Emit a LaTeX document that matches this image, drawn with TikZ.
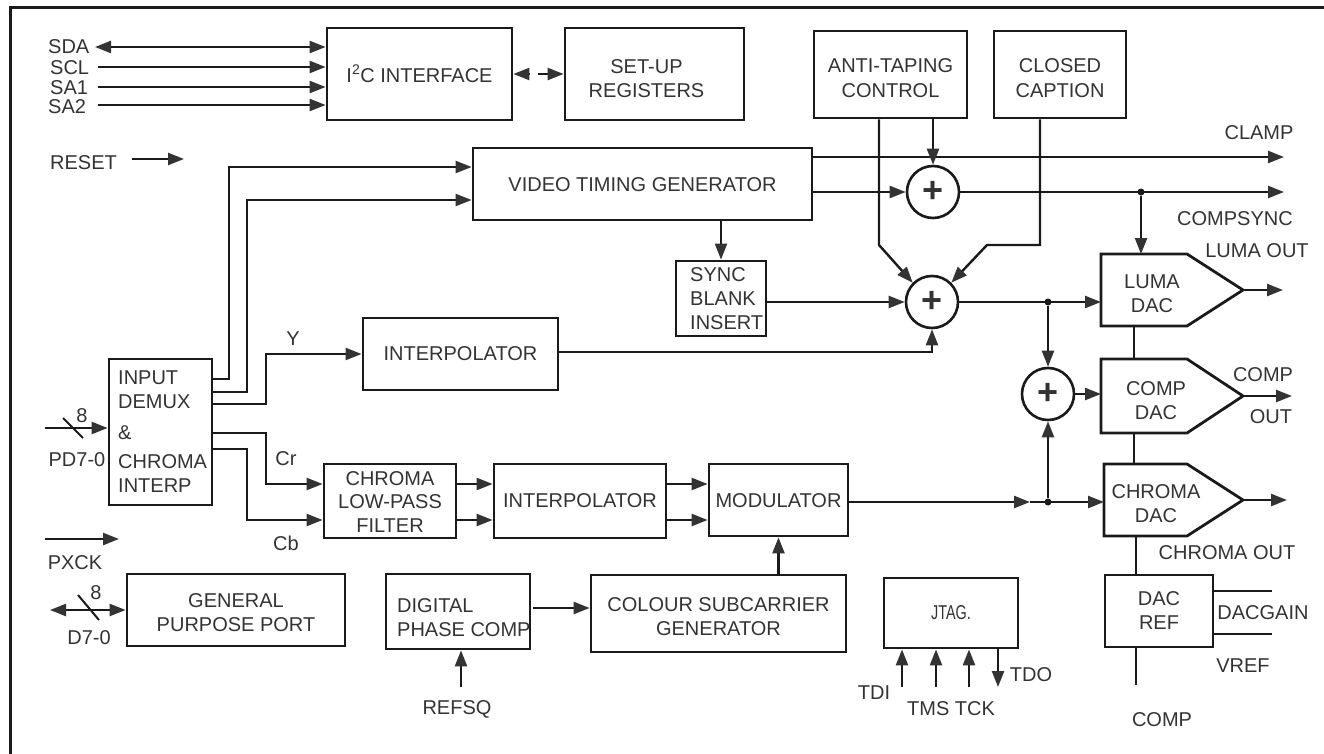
\documentclass[tikz,border=0pt]{standalone}
\usepackage{fontspec}
\setmainfont{Liberation Sans}
\usetikzlibrary{arrows.meta,calc}
\definecolor{linec}{HTML}{1A1A1A}
\definecolor{txt}{HTML}{333333}
\definecolor{tipc}{HTML}{333333}
\newcommand\lbf{\fontsize{20}{24}\selectfont}
% shift box text: #1 = horizontal shift, #2 = downward shift, #3 = lines
\newcommand\tsh[3]{\raisebox{-#2}[\height][\depth]{\hspace*{#1}\begin{tabular}{@{}c@{}}#3\end{tabular}\hspace*{-#1}}}
\begin{document}
\begin{tikzpicture}[x=1pt,y=-1pt,
 blk/.style={draw=linec,line width=2.8pt,inner sep=0,text=txt,font=\lbf,align=center},
 outl/.style={draw=linec,line width=2.8pt,line join=miter},
 wire/.style={draw=linec,line width=2.4pt},
 arr/.style={wire,-{Triangle[length=16pt,width=12pt,fill=tipc,color=tipc]}},
 darr/.style={wire,{Triangle[length=16pt,width=12pt,fill=tipc,color=tipc]}-{Triangle[length=16pt,width=12pt,fill=tipc,color=tipc]}},
 lbl/.style={inner sep=0,text=txt,font=\lbf,align=center},
 sum/.style={circle,draw=linec,line width=2.6pt,minimum size=52pt,inner sep=0,text=txt,font=\fontsize{36}{36}\selectfont\bfseries},
 dot/.style={circle,fill=linec,minimum size=7pt,inner sep=0},
 ghost/.style={inner sep=0,outer sep=0},
]
\useasboundingbox (0,0) rectangle (1324,754);
% frame
\draw[linec,line width=3pt] (10,760) -- (10,8) -- (1330,8);

% ---- blocks ----
\node[blk,minimum width=185pt,minimum height=92pt] (i2c) at (419.5,74) {\tsh{0pt}{3pt}{I\textsuperscript{2}C INTERFACE}};
\node[blk,minimum width=179pt,minimum height=92pt] (setup) at (654.5,74) {\tsh{-8pt}{7pt}{SET-UP\\REGISTERS}};
\node[blk,minimum width=153pt,minimum height=87pt] (antitap) at (890.5,74.5) {\tsh{0pt}{6pt}{ANTI-TAPING\\[1pt]CONTROL}};
\node[blk,minimum width=132pt,minimum height=87pt] (cc) at (1060,74.5) {\tsh{0pt}{6pt}{CLOSED\\[1pt]CAPTION}};
\node[blk,minimum width=339pt,minimum height=72pt] (vtg) at (642.5,184) {\tsh{0pt}{3pt}{VIDEO TIMING GENERATOR}};
\node[blk,minimum width=90pt,minimum height=75pt] (sync) at (721,298.5) {};
\node[lbl,anchor=west,align=left] (synct) at (690,299) {SYNC\\BLANK\\INSERT};
\node[blk,minimum width=195pt,minimum height=72pt] (interpY) at (460.5,354) {INTERPOLATOR};
\node[blk,minimum width=103pt,minimum height=146pt] (demux) at (160.5,432) {};
\node[lbl,anchor=west,align=left] (demuxt) at (118,432) {INPUT\\DEMUX\\[7pt]\&\\[5pt]CHROMA\\INTERP};
\node[blk,minimum width=132pt,minimum height=74pt,font=\fontsize{20}{23.5}\selectfont] (lpf) at (390,501) {\tsh{0pt}{3pt}{CHROMA\\LOW-PASS\\FILTER}};
\node[blk,minimum width=172pt,minimum height=74pt] (interpC) at (580,501) {\tsh{0pt}{2pt}{INTERPOLATOR}};
\node[blk,minimum width=139pt,minimum height=72pt] (mod) at (778.5,500) {\tsh{0pt}{3pt}{MODULATOR}};
\node[blk,minimum width=218pt,minimum height=72pt] (gpp) at (236,610) {\tsh{0pt}{5pt}{GENERAL\\PURPOSE PORT}};
\node[blk,minimum width=144pt,minimum height=75pt] (dpc) at (458,611.5) {};
\node[lbl,anchor=west,align=left] (dpct) at (397,618) {DIGITAL\\PHASE COMP};
\node[blk,minimum width=255pt,minimum height=77pt] (csg) at (718.5,613.5) {\tsh{0pt}{5pt}{COLOUR SUBCARRIER\\GENERATOR}};
\node[blk,minimum width=134pt,minimum height=70pt] (jtag) at (951,613) {\tsh{0pt}{2pt}{\scalebox{0.72}[1]{JTAG.}}};
\node[blk,minimum width=108pt,minimum height=72pt] (dacref) at (1159,611) {\tsh{0pt}{2pt}{DAC\\REF}};

% ---- DACs ----
\node[ghost,minimum width=142pt,minimum height=72pt] (lumadac) at (1172,290) {};
\draw[outl] (lumadac.north west) -- ++(86,0) -- (lumadac.east) -- ($(lumadac.south west)+(86,0)$) -- (lumadac.south west) -- cycle;
\node[lbl] (lumat) at (1152,294) {LUMA\\DAC};
\node[ghost,minimum width=142pt,minimum height=74pt] (compdac) at (1172,396) {};
\draw[outl] (compdac.north west) -- ++(86,0) -- (compdac.east) -- ($(compdac.south west)+(86,0)$) -- (compdac.south west) -- cycle;
\node[lbl] (compt) at (1156,401) {COMP\\DAC};
\node[ghost,minimum width=139pt,minimum height=72pt] (chromadac) at (1173.5,500) {};
\draw[outl] (chromadac.north west) -- ++(83,0) -- (chromadac.east) -- ($(chromadac.south west)+(83,0)$) -- (chromadac.south west) -- cycle;
\node[lbl] (chromat) at (1156,504) {CHROMA\\DAC};

% ---- summers ----
\node[sum] (s1) at (933,192) {+};
\node[sum] (s2) at (932,302) {+};
\node[sum] (s3) at (1048,394) {+};

% ---- left inputs ----
\node[lbl,anchor=west] (sda) at (48,47) {SDA};
\node[lbl,anchor=west] (scl) at (50,68) {SCL};
\node[lbl,anchor=west] (sa1) at (50,88) {SA1};
\node[lbl,anchor=west] (sa2) at (48,107) {SA2};
\coordinate (sdae) at (95,47);
\coordinate (scle) at (98,67);
\coordinate (sa1e) at (98,87);
\coordinate (sa2e) at (98,105);
\draw[darr] (sdae) -- (i2c.west |- sdae);
\draw[arr] (scle) -- (i2c.west |- scle);
\draw[arr] (sa1e) -- (i2c.west |- sa1e);
\draw[arr] (sa2e) -- (i2c.west |- sa2e);

\coordinate (ia) at (529,74);
\coordinate (ib) at (538,74);
\draw[arr] (ia) -- (i2c.east |- ia);
\draw[arr] (ib) -- (setup.west |- ib);

\node[lbl,anchor=west] (reset) at (50,163) {RESET};
\coordinate (rs1) at (132,159);
\coordinate (rs2) at (184,159);
\draw[arr] (rs1) -- (rs2);

% PD7-0
\coordinate (pd1) at (45,428);
\draw[arr] (pd1) -- (demux.west |- pd1);
\coordinate (pdsa) at (63,418);
\coordinate (pdsb) at (83,438);
\draw[wire,line width=2pt] (pdsa) -- (pdsb);
\node[lbl] (pd8) at (82,416) {8};
\node[lbl] (pdl) at (77,460) {PD7-0};

% PXCK
\coordinate (px1) at (45,539);
\coordinate (px2) at (119,539);
\draw[arr] (px1) -- (px2);
\node[lbl] (pxl) at (75,563) {PXCK};

% D7-0
\coordinate (d71) at (50,610);
\draw[darr] (d71) -- (gpp.west |- d71);
\coordinate (d7sa) at (78,595);
\coordinate (d7sb) at (99,620);
\draw[wire,line width=2pt] (d7sa) -- (d7sb);
\node[lbl] (d78) at (96,593) {8};
\node[lbl] (d7l) at (89,638) {D7-0};

% ---- demux outputs ----
\coordinate (c1a) at (229,379);
\coordinate (c1b) at (229,167);
\draw[arr] (demux.east |- c1a) -- (c1a) -- (c1b) -- (vtg.west |- c1b);
\coordinate (c2a) at (247,392);
\coordinate (c2b) at (247,200);
\draw[arr] (demux.east |- c2a) -- (c2a) -- (c2b) -- (vtg.west |- c2b);
\coordinate (ya) at (266,404);
\coordinate (yb) at (266,354);
\draw[arr] (demux.east |- ya) -- (ya) -- (yb) -- (interpY.west |- yb);
\node[lbl] (yl) at (293,339) {Y};
\coordinate (cra) at (266,433);
\coordinate (crb) at (266,484);
\draw[arr] (demux.east |- cra) -- (cra) -- (crb) -- (lpf.west |- crb);
\node[lbl] (crl) at (286,459) {Cr};
\coordinate (cba) at (247,449);
\coordinate (cbb) at (247,520);
\draw[arr] (demux.east |- cba) -- (cba) -- (cbb) -- (lpf.west |- cbb);
\node[lbl] (cbl) at (286,543) {Cb};

% ---- chroma chain ----
\coordinate (r1) at (0,484);
\coordinate (r2) at (0,520);
\draw[arr] (lpf.east |- r1) -- (interpC.west |- r1);
\draw[arr] (lpf.east |- r2) -- (interpC.west |- r2);
\draw[arr] (interpC.east |- r1) -- (mod.west |- r1);
\draw[arr] (interpC.east |- r2) -- (mod.west |- r2);
\draw[arr] (mod.south |- csg.north) -- (mod.south);
\coordinate (dp) at (0,608);
\draw[arr] ($(dpc.east |- dp)+(2,0)$) -- (csg.west |- dp);
\coordinate (rq) at (461,687);
\draw[arr] (rq) -- (dpc.south -| rq);
\node[lbl] (rql) at (457,709) {REFSQ};

\coordinate (cm) at (1030,502);
\draw[arr] (mod.east |- cm) -- (cm);
\draw[arr] (cm) -- (chromadac.west |- cm);
\node[dot] (d3) at (1048,502) {};
\draw[arr] (d3) -- (s3.south);

% ---- JTAG ----
\coordinate (tdi) at (902,687);
\coordinate (tms) at (936,687);
\coordinate (tck) at (969,687);
\coordinate (tdo) at (998,687);
\draw[arr] (tdi) -- (jtag.south -| tdi);
\draw[arr] (tms) -- (jtag.south -| tms);
\draw[arr] (tck) -- (jtag.south -| tck);
\draw[arr] (jtag.south -| tdo) -- (tdo);
\node[lbl] (tdil) at (874,693) {TDI};
\node[lbl] (tmsl) at (951,709) {TMS TCK};
\node[lbl] (tdol) at (1031,675) {TDO};

% ---- timing / luma ----
\coordinate (clampe) at (1284,157);
\draw[arr] (vtg.east |- clampe) -- (clampe);
\node[lbl] (clampl) at (1259,133) {CLAMP};
\draw[arr] (vtg.east |- s1.west) -- (s1.west);
\draw[arr] (antitap.south -| s1.north) -- (s1.north);
\coordinate (cse) at (1284,192);
\draw[arr] (s1.east) -- (cse);
\node[lbl] (csl) at (1235,219) {COMPSYNC};
\node[dot] (d1) at (1141,192) {};
\draw[arr] (d1) -- (lumadac.north -| d1);

\draw[arr] (sync.north |- vtg.south) -- (sync.north);
\draw[arr] (sync.east |- s2.west) -- (s2.west);
\coordinate (iy) at (0,352);
\draw[arr] (interpY.east |- iy) -| (s2.south);
\coordinate (at1) at (879,245);
\draw[arr] (antitap.south -| at1) -- (at1) -- (s2.north west);
\coordinate (cc1) at (1040,245);
\coordinate (cc2) at (987,245);
\draw[arr] (cc.south -| cc1) -- (cc1) -- (cc2) -- (s2.north east);

\draw[arr] (s2.east) -- (lumadac.west |- s2.east);
\node[dot] (d2) at (1048,302) {};
\draw[arr] (d2) -- (s3.north);
\draw[arr] (s3.east) -- (compdac.west |- s3.east);

% ---- DAC links / outputs ----
\coordinate (vx) at (1134,0);
\coordinate (vx2) at (1136,0);
\draw[wire] (lumadac.south -| vx) -- (compdac.north -| vx);
\draw[wire] (compdac.south -| vx) -- (chromadac.north -| vx);
\draw[wire] (chromadac.south -| vx2) -- (dacref.north -| vx2);
\coordinate (cpe) at (1136,685);
\draw[wire] (dacref.south -| cpe) -- (cpe);
\node[lbl] (cpl) at (1162,720) {COMP};

\draw[arr] (lumadac.east) -- ++(40,0);
\node[lbl] (lol) at (1257,251) {LUMA OUT};
\draw[arr] (compdac.east) -- ++(49,0);
\node[lbl] (col1) at (1263,375) {COMP};
\node[lbl] (col2) at (1271,417) {OUT};
\draw[arr] (chromadac.east) -- ++(44,0);
\node[lbl] (chol) at (1227,553) {CHROMA OUT};

\coordinate (dg) at (1272,591);
\coordinate (vr) at (1272,634);
\draw[wire] (dacref.east |- dg) -- (dg);
\draw[wire] (dacref.east |- vr) -- (vr);
\node[lbl] (dgl) at (1263,613) {DACGAIN};
\node[lbl] (vrl) at (1243,666) {VREF};
\end{tikzpicture}
\end{document}
